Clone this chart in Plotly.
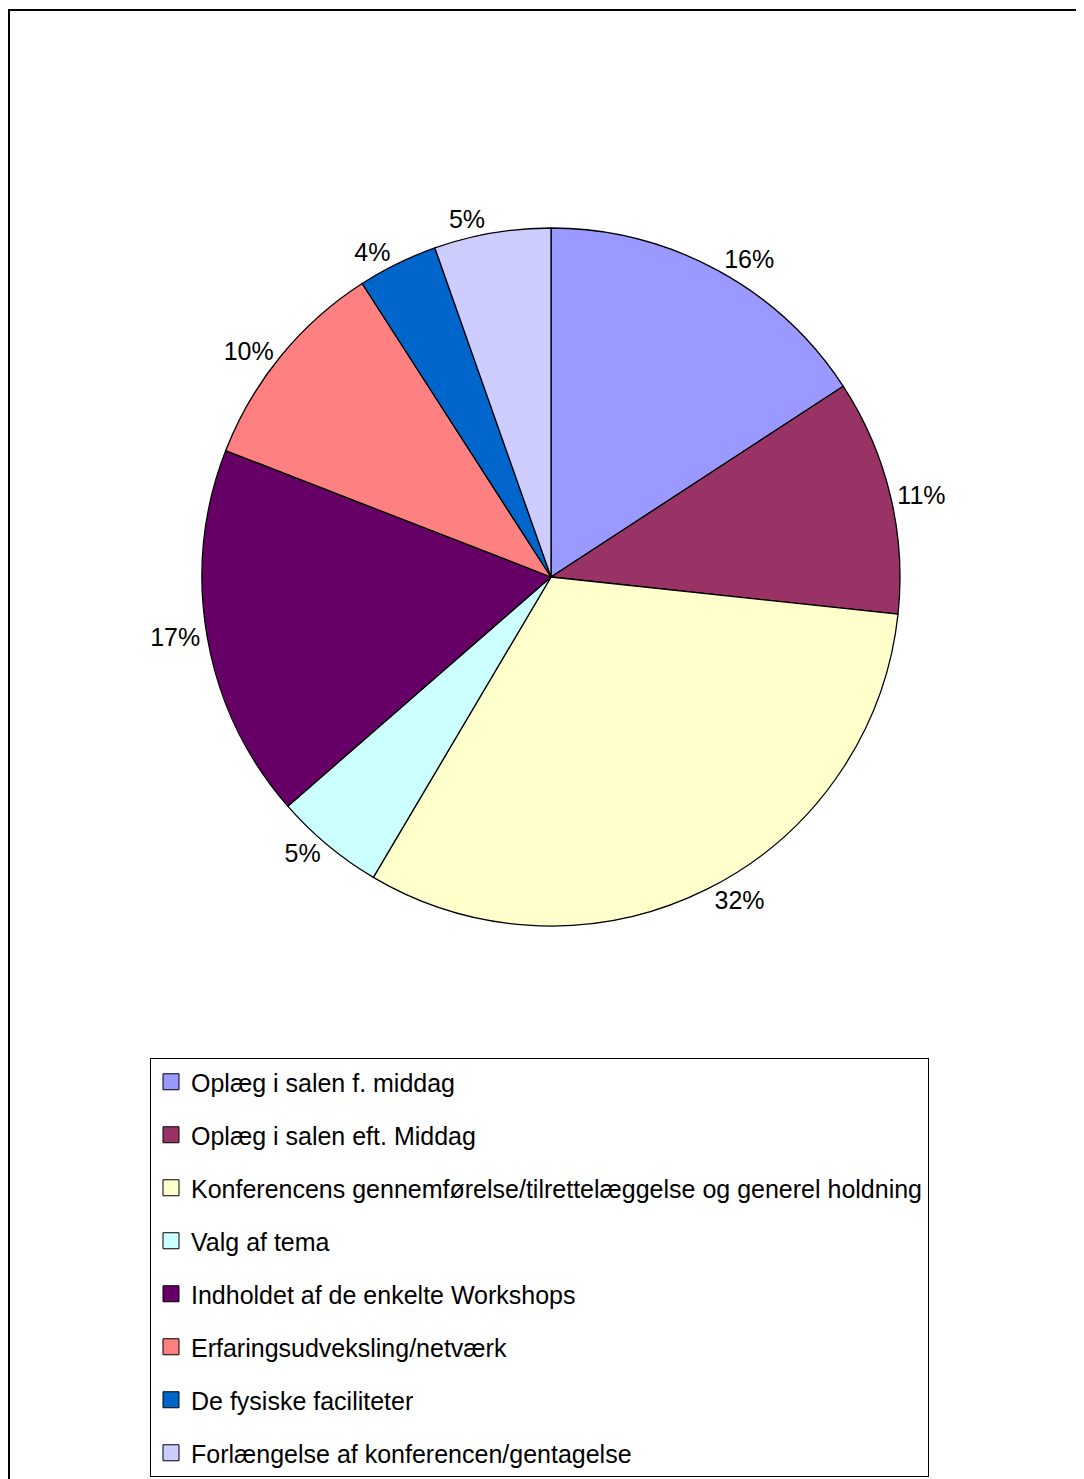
import plotly.graph_objects as go

categories = [
    "Oplæg i salen f. middag",
    "Oplæg i salen eft. Middag",
    "Konferencens gennemførelse/tilrettelæggelse og generel holdning",
    "Valg af tema",
    "Indholdet af de enkelte Workshops",
    "Erfaringsudveksling/netværk",
    "De fysiske faciliteter",
    "Forlængelse af konferencen/gentagelse",
]
values = [15.8, 10.9, 31.8, 5.1, 17.3, 10.0, 3.7, 5.4]
colors = ["#9999FF", "#993366", "#FFFFCC", "#CCFFFF", "#660066", "#FF8080", "#0066CC", "#CCCCFF"]

W, H = 1084, 1479
OFF = 8  # page body margin offset
FONT = "Liberation Sans, Arial, sans-serif"

fig = go.Figure()
fig.add_trace(go.Pie(
    labels=categories,
    values=values,
    sort=False,
    direction="clockwise",
    rotation=0,
    marker=dict(colors=colors, line=dict(color="black", width=1.3)),
    textposition="outside",
    texttemplate="%{percent:.0%}",
    textfont=dict(family=FONT, size=25, color="black"),
    showlegend=False,
    hoverinfo="skip",
    domain=dict(x=[(202 - OFF) / W, (900 - OFF) / W],
                y=[1 - (926 - OFF) / H, 1 - (228 - OFF) / H]),
))

# legend entries (one per category, each its own group for spacing)
for i, (c, col) in enumerate(zip(categories, colors)):
    fig.add_trace(go.Scatter(
        x=[None], y=[None], mode="markers", name=c,
        marker=dict(symbol="square", size=16, color=col, line=dict(color="black", width=1)),
        legendgroup=f"g{i}", showlegend=True, hoverinfo="skip",
    ))

fig.update_layout(
    width=W, height=H,
    margin=dict(l=0, r=0, t=0, b=0),
    paper_bgcolor="white", plot_bgcolor="white",
    font=dict(family=FONT, color="black"),
    xaxis=dict(visible=False), yaxis=dict(visible=False),
    legend=dict(
        x=(150 - OFF) / W, xanchor="left", y=1 - (1058 - OFF) / H, yanchor="top",
        bordercolor="black", borderwidth=1, bgcolor="white",
        font=dict(family=FONT, size=25, color="black"),
        traceorder="grouped", tracegroupgap=17.5,
        itemclick=False, itemdoubleclick=False,
    ),
    shapes=[dict(type="rect", xref="paper", yref="paper",
                 x0=1 / W, x1=1.02, y0=-0.02, y1=1 - (10 - OFF) / H,
                 line=dict(color="black", width=2))],
)

fig.write_html("out.html")
